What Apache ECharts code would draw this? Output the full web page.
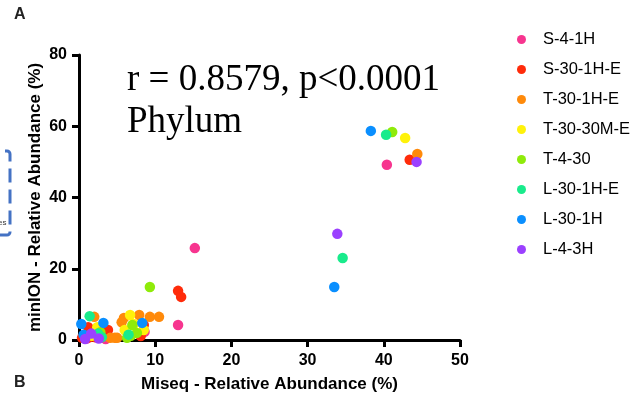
<!DOCTYPE html>
<html>
<head>
<meta charset="utf-8">
<script src="https://cdn.jsdelivr.net/npm/echarts@6/dist/echarts.min.js"></script>
<style>
  html, body { margin: 0; padding: 0; background: #fff; }
  #chart { width: 635px; height: 398px; }
</style>
</head>
<body>
<div id="chart"></div>
<script>
// [miseq %, minION %] per sample
const seriesNames = ['S-4-1H', 'S-30-1H-E', 'T-30-1H-E', 'T-30-30M-E', 'T-4-30', 'L-30-1H-E', 'L-30-1H', 'L-4-3H'];
const seriesColors = ['#F7358F', '#FF2B0A', '#FF8A0A', '#FFF20A', '#8FEB0A', '#19EB8C', '#0A8FFF', '#9B40FF'];

const s41h = [[40.4, 49.2], [15.2, 25.8], [13.0, 4.2], [8.6, 2.3], [2.3, 1.5], [1.0, 0.4], [3.5, 0.3]];
const s301he = [[43.4, 50.6], [13.0, 13.8], [13.4, 12.1], [8.5, 4.2], [8.1, 1.1], [3.8, 2.8], [1.2, 3.6], [0.4, 0.6], [1.4, 0.8], [2.1, 0.8]];
const t301he = [[44.4, 52.2], [10.5, 6.5], [9.3, 6.5], [7.9, 7.0], [5.9, 6.2], [5.6, 5.0], [2.0, 6.5], [4.1, 0.6], [4.7, 0.6], [5.0, 0.6]];
const t3030me = [[42.8, 56.7], [6.7, 7.0], [8.5, 2.8], [6.0, 2.8], [2.4, 3.6], [1.7, 1.2], [7.2, 4.5]];
const t430 = [[41.1, 58.4], [9.3, 14.9], [7.0, 4.2], [7.6, 2.0], [6.3, 0.6], [2.8, 2.2], [6.8, 1.2]];
const l301he = [[40.3, 57.6], [34.6, 23.0], [1.4, 6.7], [3.0, 0.8], [6.5, 1.5], [2.5, 1.8]];
const l301h = [[38.3, 58.7], [33.5, 14.9], [0.3, 4.5], [3.2, 4.8], [8.3, 4.8], [0.6, 1.5]];
const l43h = [[44.3, 50.0], [33.9, 29.8], [0.8, 0.3], [2.6, 0.4], [1.6, 1.8]];

const seriesData = [s41h, s301he, t301he, t3030me, t430, l301he, l301h, l43h];

const xTicks = { min: 0, max: 50, interval: 10 };
const yTicks = { min: 0, max: 80, interval: 20 };

const chart = echarts.init(document.getElementById('chart'), null, { renderer: 'canvas' });

const axisCommon = {
  axisLine: { lineStyle: { color: '#000', width: 3 } },
  axisTick: { show: true, length: 7, lineStyle: { color: '#000', width: 3 } },
  splitLine: { show: false },
  axisLabel: { color: '#000', fontWeight: 'bold', fontSize: 16, fontFamily: 'Liberation Sans' },
  nameTextStyle: { color: '#000', fontWeight: 'bold', fontSize: 17, fontFamily: 'Liberation Sans' },
  nameMoveOverlap: false,
};

const series = seriesNames.map((name, i) => ({
  name: name,
  type: 'scatter',
  symbol: 'circle',
  symbolSize: 10.5,
  itemStyle: { color: seriesColors[i], opacity: 1 },
  data: seriesData[i],
}));

const option = {
  animation: false,
  backgroundColor: '#fff',
  grid: { left: 79, right: 175, top: 55, bottom: 58, containLabel: false },
  xAxis: Object.assign({}, axisCommon, {
    type: 'value',
    min: xTicks.min,
    max: xTicks.max,
    interval: xTicks.interval,
    name: 'Miseq - Relative Abundance (%)',
    nameLocation: 'middle',
    nameGap: 36,
    axisLabel: Object.assign({}, axisCommon.axisLabel, { margin: 13 }),
  }),
  yAxis: Object.assign({}, axisCommon, {
    type: 'value',
    min: yTicks.min,
    max: yTicks.max,
    interval: yTicks.interval,
    name: 'minION - Relative Abundance (%)',
    nameLocation: 'middle',
    nameGap: 35,
    axisLabel: Object.assign({}, axisCommon.axisLabel, { margin: 12 }),
  }),
  legend: {
    orient: 'vertical',
    left: 512,
    top: 26,
    itemWidth: 9,
    itemHeight: 9,
    itemGap: 13,
    icon: 'circle',
    data: seriesNames,
    textStyle: { color: '#000', fontSize: 16.5, fontFamily: 'Liberation Sans', padding: [0, 0, 0, 12] },
  },
  graphic: [
    {
      type: 'text', left: 127, top: 59,
      style: {
        text: 'r = 0.8579, p<0.0001\nPhylum',
        font: '37px "Liberation Serif", "Times New Roman", serif',
        lineHeight: 42,
        fill: '#000',
      },
    },
    { type: 'text', left: 14, top: 7, style: { text: 'A', font: 'bold 16px "Liberation Sans"', fill: '#222' } },
    { type: 'text', left: 14, top: 375, style: { text: 'B', font: 'bold 16px "Liberation Sans"', fill: '#222' } },
    {
      type: 'rect',
      shape: { x: -40, y: 151, width: 50, height: 84, r: 3 },
      style: { fill: 'none', stroke: '#4472C4', lineWidth: 3, lineDash: [14, 7] },
    },
    { type: 'text', left: -2, top: 219, style: { text: 'es', font: '8px "Liberation Sans"', fill: '#333' } },
  ],
  series: series,
};

chart.setOption(option);
</script>
</body>
</html>
